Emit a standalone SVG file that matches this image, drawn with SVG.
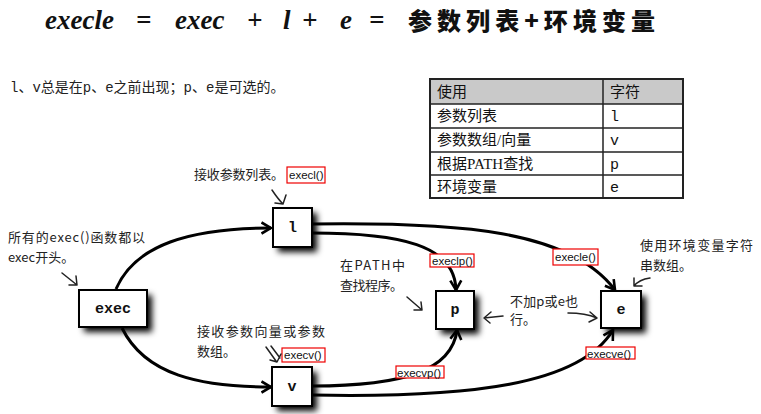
<svg xmlns="http://www.w3.org/2000/svg" width="761" height="414" viewBox="0 0 761 414">
<style>
.title{font-family:"Liberation Serif",serif;font-style:italic;font-weight:bold;font-size:27px;fill:#111}
.titlecjk{font-family:"Noto Sans CJK SC",sans-serif;font-weight:900;font-size:24px;fill:#111}
.sub{font-family:"Liberation Mono","Noto Sans CJK SC",monospace;font-size:14px;fill:#222}
.tbl{font-family:"Liberation Serif","Noto Sans CJK SC",serif;font-size:15px;fill:#111}
.tblmono{font-family:"Liberation Mono",monospace;font-size:15px;fill:#111}
.hand{font-family:"Noto Sans CJK SC",sans-serif;font-size:13px;fill:#222}
.box{fill:#fff;stroke:#000;stroke-width:2}
.shadow{fill:#000;filter:url(#blur)}
.btxt{font-family:"Liberation Mono",monospace;font-weight:bold;font-size:15px;fill:#111;text-anchor:middle}
.conn{fill:none;stroke:#000;stroke-width:3;marker-end:url(#arr)}
.small{fill:none;stroke:#222;stroke-width:1.5;stroke-linecap:round;stroke-linejoin:round}
.lbl rect{fill:#fff;stroke:#e00;stroke-width:1.2}
.lbl text{font-family:"Liberation Sans",Arial,sans-serif;font-size:11.5px;fill:#111}
</style>
<defs>
<filter id="blur" x="-40%" y="-40%" width="180%" height="180%"><feGaussianBlur stdDeviation="3"/></filter>
<marker id="arr" viewBox="0 0 12 14" refX="10.5" refY="7" markerWidth="12" markerHeight="14" markerUnits="userSpaceOnUse" orient="auto">
<path d="M1,1.5 L10.5,7 L1,12.5" fill="none" stroke="#000" stroke-width="2.6" stroke-linejoin="miter"/>
</marker>
</defs>

<g id="title">
<text class="title" y="29"><tspan x="45">execle</tspan><tspan x="136">=</tspan><tspan x="175">exec</tspan><tspan x="247">+</tspan><tspan x="283">l</tspan><tspan x="302">+</tspan><tspan x="340">e</tspan><tspan x="369">=</tspan></text>
<text class="titlecjk" x="408" y="30" textLength="247" lengthAdjust="spacing">参数列表+环境变量</text>
</g>

<text class="sub" x="10" y="92">l、v总是在p、e之前出现；p、e是可选的。</text>

<g id="table">
<rect x="430" y="79" width="253" height="25" fill="#c9c9c9"/>
<rect x="430" y="79" width="253" height="119" fill="none" stroke="#222" stroke-width="2"/>
<line x1="430" y1="104" x2="683" y2="104" stroke="#222" stroke-width="1.5"/>
<line x1="430" y1="128" x2="683" y2="128" stroke="#222" stroke-width="1.5"/>
<line x1="430" y1="152" x2="683" y2="152" stroke="#222" stroke-width="1.5"/>
<line x1="430" y1="175" x2="683" y2="175" stroke="#222" stroke-width="1.5"/>
<line x1="603" y1="79" x2="603" y2="198" stroke="#222" stroke-width="1.5"/>
<text class="tbl" x="437" y="97">使用</text>
<text class="tbl" x="610" y="97">字符</text>
<text class="tbl" x="437" y="121">参数列表</text>
<text class="tblmono" x="610" y="121">l</text>
<text class="tbl" x="437" y="145">参数数组/向量</text>
<text class="tblmono" x="610" y="145">v</text>
<text class="tbl" x="437" y="169">根据PATH查找</text>
<text class="tblmono" x="610" y="169">p</text>
<text class="tbl" x="437" y="192">环境变量</text>
<text class="tblmono" x="610" y="192">e</text>
</g>

<g id="connectors">
<path class="conn" d="M116,289 C135,245 190,228 271,228"/>
<path class="conn" d="M122,328 C145,375 200,387 271,387"/>
<path class="conn" d="M312,233 C400,233 455,245 456,290"/>
<path class="conn" d="M312,224 C460,222 570,230 615,290"/>
<path class="conn" d="M312,386 C405,386 452,370 457,330"/>
<path class="conn" d="M312,395 C470,398 580,385 613,330"/>
</g>

<g id="node-exec">
<rect class="shadow" x="84" y="295" width="68" height="37"/>
<rect class="box" x="79" y="290" width="68" height="37"/>
<text class="btxt" x="113" y="313">exec</text>
</g>
<g id="node-l">
<rect class="shadow" x="278" y="213" width="39" height="39"/>
<rect class="box" x="273" y="208" width="39" height="39"/>
<text class="btxt" x="292.5" y="232">l</text>
</g>
<g id="node-v">
<rect class="shadow" x="277" y="372" width="40" height="39"/>
<rect class="box" x="272" y="367" width="40" height="39"/>
<text class="btxt" x="292" y="391">v</text>
</g>
<g id="node-p">
<rect class="shadow" x="441" y="296" width="38" height="38"/>
<rect class="box" x="436" y="291" width="38" height="38"/>
<text class="btxt" x="455" y="314">p</text>
</g>
<g id="node-e">
<rect class="shadow" x="606" y="296" width="40" height="37"/>
<rect class="box" x="601" y="291" width="40" height="37"/>
<text class="btxt" x="621" y="314">e</text>
</g>

<g id="labels">
<g class="lbl"><rect x="287" y="167" width="38" height="16"/><text x="289" y="179">execl()</text></g>
<g class="lbl"><rect x="430" y="254" width="44" height="13"/><text x="432" y="265">execlp()</text></g>
<g class="lbl"><rect x="553" y="249" width="45" height="16"/><text x="555" y="261">execle()</text></g>
<g class="lbl"><rect x="282" y="348" width="43" height="14"/><text x="284" y="359">execv()</text></g>
<g class="lbl"><rect x="396" y="366" width="48" height="12"/><text x="397" y="377">execvp()</text></g>
<g class="lbl"><rect x="586" y="347" width="49" height="12"/><text x="587" y="358">execve()</text></g>
</g>

<g id="notes">
<text class="hand" x="194" y="179" textLength="90">接收参数列表。</text>
<path class="small" d="M272,190 C276,196 279,200 283,204 M275,203 L283,204 L286,195"/>
<text class="hand" x="8" y="242" textLength="137">所有的exec()函数都以</text>
<text class="hand" x="8" y="262">exec开头。</text>
<path class="small" d="M62,273 L77,285 M69,285 L77,285 L76,276"/>
<text class="hand" x="340" y="270" textLength="65">在PATH中</text>
<text class="hand" x="340" y="290" textLength="63">查找程序。</text>
<path class="small" d="M407,297 L422,310 M414,310 L422,310 L421,302"/>
<text class="hand" x="510" y="306" textLength="68">不加p或e也</text>
<text class="hand" x="510" y="324">行。</text>
<path class="small" d="M503,316 L484,318 M491,312 L484,318 L490,323"/>
<path class="small" d="M568,313 C580,313 590,315 597,318 M590,312 L597,318 L589,322"/>
<text class="hand" x="640" y="250" textLength="113">使用环境变量字符</text>
<text class="hand" x="640" y="270">串数组。</text>
<path class="small" d="M650,278 C643,279 638,281 634,286 M634,278 L634,286 L642,286"/>
<text class="hand" x="197" y="336" textLength="128">接收参数向量或参数</text>
<text class="hand" x="197" y="356">数组。</text>
<path class="small" d="M266,347 L276,361 M271,346 L280,358 M270,360 L277,362 L281,354"/>
</g>
</svg>
